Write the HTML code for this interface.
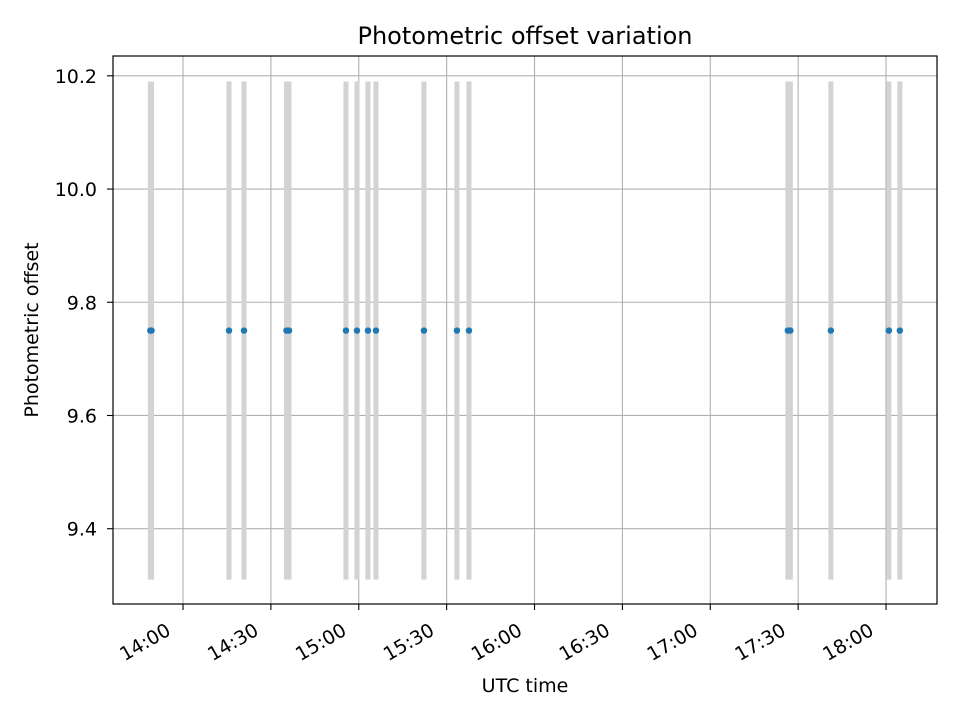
<!DOCTYPE html>
<html><head><meta charset="utf-8"><style>
html,body{margin:0;padding:0;background:#fff;}
svg{display:block;font-family:"DejaVu Sans","Liberation Sans",sans-serif;}
</style></head><body>
<svg id="chart" width="960" height="720" viewBox="0 0 960 720">
<rect width="960" height="720" fill="#fff"/>
<text x="525" y="44" font-size="24" text-anchor="middle">Photometric offset variation</text>
<g id="grid"></g>
<g id="bars"></g>
<g id="points"></g>
<rect x="113" y="56" width="824" height="548" fill="none" stroke="#000" stroke-width="1.2"/>
<g id="axes"></g>
<text x="525" y="692" font-size="19" text-anchor="middle">UTC time</text>
<text transform="translate(38,330) rotate(-90)" font-size="19" text-anchor="middle">Photometric offset</text>
</svg>
<script>
const times = ["13:48:50","13:49:15","14:15:42","14:20:49","14:35:19","14:36:11","14:55:38","14:59:23","15:03:08","15:05:52","15:22:15","15:33:31","15:37:37","17:26:29","17:27:20","17:41:10","18:00:58","18:04:43"];
const offsets = [9.75,9.75,9.75,9.75,9.75,9.75,9.75,9.75,9.75,9.75,9.75,9.75,9.75,9.75,9.75,9.75,9.75,9.75];
const errors = [0.44,0.44,0.44,0.44,0.44,0.44,0.44,0.44,0.44,0.44,0.44,0.44,0.44,0.44,0.44,0.44,0.44,0.44];
const xTickLabels = ["14:00","14:30","15:00","15:30","16:00","16:30","17:00","17:30","18:00"];
const yTicks = [9.4,9.6,9.8,10.0,10.2];

const NS="http://www.w3.org/2000/svg";
const L=113,R=937,T=56,B=604;
const xMin=13*60+36.1, xMax=18*60+17.4;
const yMin=9.267, yMax=10.235;
function toMin(s){const p=s.split(':').map(Number);return p[0]*60+p[1]+(p[2]||0)/60;}
function xs(m){return L+(m-xMin)/(xMax-xMin)*(R-L);}
function ys(v){return B-(v-yMin)/(yMax-yMin)*(B-T);}
function mk(tag,attrs,parent){const e=document.createElementNS(NS,tag);for(const k in attrs)e.setAttribute(k,attrs[k]);parent.appendChild(e);return e;}
const grid=document.getElementById('grid'),axes=document.getElementById('axes'),bars=document.getElementById('bars'),pts=document.getElementById('points');

xTickLabels.forEach(lbl=>{
  const x=xs(toMin(lbl));
  const g=mk('line',{x1:x,x2:x,y1:T,y2:B,stroke:'#b0b0b0','stroke-width':1.1},grid);
  
  
  const t=mk('line',{x1:x,x2:x,y1:B,y2:B+6,stroke:'#000','stroke-width':1.1},axes);
  
  
  const tx=mk('text',{transform:`translate(${x-11},${B+30}) rotate(-30)`,'font-size':19,'text-anchor':'end'},axes);
  tx.textContent=lbl;
  
  
});
yTicks.forEach(v=>{
  const y=ys(v);
  const g=mk('line',{x1:L,x2:R,y1:y,y2:y,stroke:'#b0b0b0','stroke-width':1.1},grid);
  
  
  const t=mk('line',{x1:L-6,x2:L,y1:y,y2:y,stroke:'#000','stroke-width':1.1},axes);
  
  
  const tx=mk('text',{x:L-16,y:y+7,'font-size':19,'text-anchor':'end'},axes);
  tx.textContent=v.toFixed(1);
  
  
});
times.forEach((s,i)=>{
  const x=xs(toMin(s));
  const b=mk('line',{x1:x,x2:x,y1:ys(offsets[i]+errors[i]),y2:ys(offsets[i]-errors[i]),stroke:'#d3d3d3','stroke-width':5},bars);
  
  
  const c=mk('circle',{cx:x,cy:ys(offsets[i]),r:3.2,fill:'#1f77b4'},pts);
  
  
});
</script>
</body></html>
